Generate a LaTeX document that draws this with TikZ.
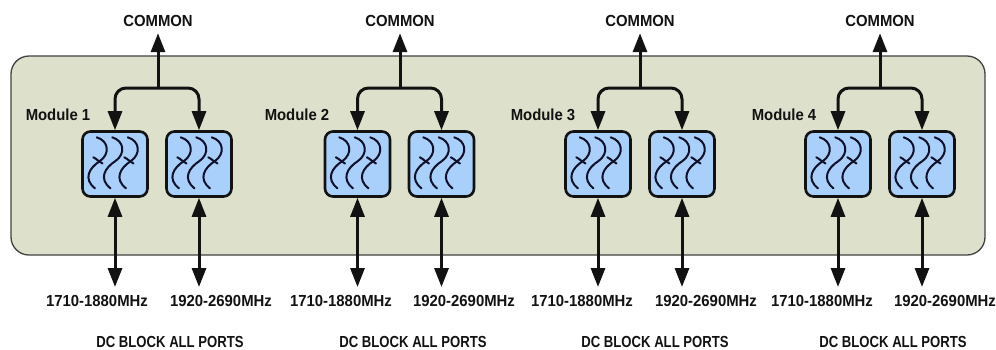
\documentclass[tikz,border=0pt]{standalone}
\usepackage{fontspec}
\setmainfont{Liberation Sans}[BoldFont=* Bold]
\newfontfamily\narrowfont{Liberation Sans Bold}[FakeStretch=0.82]
\newfontfamily\labelfont{Liberation Sans Bold}[FakeStretch=0.93]
\usetikzlibrary{arrows.meta}
\definecolor{panelfill}{HTML}{DDE0CB}
\definecolor{filterfill}{HTML}{A8D0FA}
\definecolor{inkdark}{HTML}{121212}
\tikzset{
  x=1bp,y=-1bp,
  panel/.style={draw=inkdark!80,line width=1.3bp,fill=panelfill,rounded corners=18bp},
  filterbox/.style={draw=inkdark,line width=2.6bp,fill=filterfill,rounded corners=8bp,minimum width=65bp,minimum height=65bp,inner sep=0pt,line join=round},
  wave/.style={draw=inkdark!90!blue,line width=2bp,line cap=round},
  sigarrow/.style={draw=inkdark,line width=3bp,-{Triangle[length=19bp,width=14bp]}},
  duplex/.style={draw=inkdark,line width=3bp,{Triangle[length=19bp,width=14bp]}-{Triangle[length=19bp,width=14bp]}},
  splitline/.style={draw=inkdark,line width=3bp,rounded corners=11bp,-{Triangle[length=19bp,width=14bp]}},
  lbl/.style={font=\fontsize{16bp}{16bp}\selectfont\labelfont,text=inkdark,inner sep=0pt,anchor=center},
  commonlbl/.style={lbl,minimum height=24bp},
  notelbl/.style={font=\fontsize{16bp}{16bp}\selectfont\narrowfont,text=inkdark,inner sep=0pt,anchor=center}
}
% wave glyph drawn around a centre given in #1
\newcommand{\filterwaves}[1]{%
  \foreach \wdx in {0,15.5,31}{%
    \draw[wave] ([shift={(\wdx-18.3,-26.7)}]#1) .. controls ([shift={(\wdx-6,-23)}]#1) and ([shift={(\wdx-5,-10)}]#1) .. ([shift={(\wdx-15,-3)}]#1)
      .. controls ([shift={(\wdx-26,4)}]#1) and ([shift={(\wdx-32,15)}]#1) .. ([shift={(\wdx-20,24.3)}]#1);
  }%
  \foreach \wdx in {0,31}{%
    \draw[wave] ([shift={(\wdx-21.7,-6.7)}]#1) .. controls ([shift={(\wdx-18,-5)}]#1) and ([shift={(\wdx-16,-2)}]#1) .. ([shift={(\wdx-12.5,-0.5)}]#1);
  }%
}
\begin{document}
\begin{tikzpicture}
\useasboundingbox (0,0) rectangle (996,349);
\fill[white] (0,0) rectangle (996,349);
\draw[panel] (11,56) rectangle (985,255);
\foreach \m/\cx/\ax/\bx/\mx/\la/\lb/\dc in {
  1/158/115/199/58/97/221/170,
  2/400/357.5/441.5/297/341/464/413,
  3/640/598/682/543/582/706/655,
  4/880/838/922/784/822/945/893}{
  \node[filterbox] (fa\m) at (\ax,164) {};
  \node[filterbox] (fb\m) at (\bx,164) {};
  \filterwaves{fa\m.center}
  \filterwaves{fb\m.center}
  \node[commonlbl] (common\m) at (\cx,21) {COMMON};
  \node[lbl] (module\m) at (\mx,115) {Module \m};
  \node[lbl] (portla\m) at (\la,301) {1710-1880MHz};
  \node[lbl] (portlb\m) at (\lb,301) {1920-2690MHz};
  \node[notelbl] (dc\m) at (\dc,341.5) {DC BLOCK ALL PORTS};
  \coordinate (junction\m) at (\cx,88);
  \coordinate (pa\m) at (\ax,287);
  \coordinate (pb\m) at (\bx,287);
  \draw[sigarrow] (junction\m) -- (common\m.south);
  \draw[splitline] (junction\m) -| (fa\m.north);
  \draw[splitline] (junction\m) -| (fb\m.north);
  \draw[duplex] (fa\m.south) -- (pa\m);
  \draw[duplex] (fb\m.south) -- (pb\m);
}
\end{tikzpicture}
\end{document}
